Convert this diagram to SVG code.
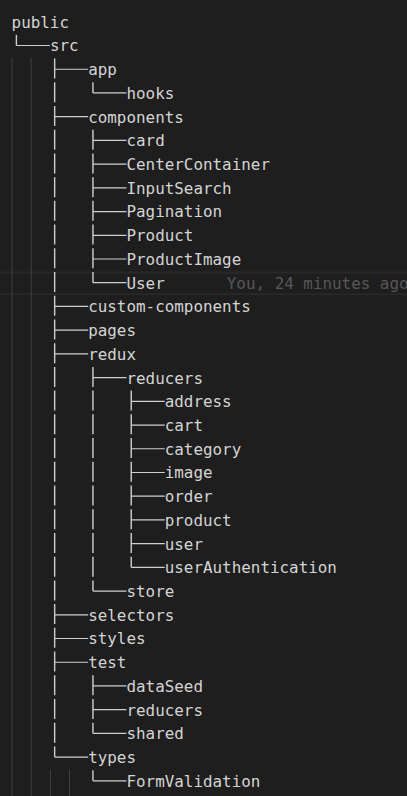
<svg xmlns="http://www.w3.org/2000/svg" width="407" height="796" viewBox="0 0 407 796">
<style>
.t{font-family:"DejaVu Sans Mono","Liberation Mono",monospace;font-size:15.9px;fill:#d4d4d4}
.blame{font-family:"DejaVu Sans Mono","Liberation Mono",monospace;font-size:15.9px;fill:#575757}
.g{stroke:#404040;stroke-width:1;fill:none}
.v{stroke:#cfcfcf;stroke-width:1.4;fill:none;stroke-dasharray:20 3.72}
.h{stroke:#cfcfcf;stroke-width:1.2;fill:none}
</style>
<rect x="0" y="0" width="407" height="796" fill="#1e1e1e"/>
<rect x="-2" y="272.5" width="411" height="21.72" fill="none" stroke="#282828" stroke-width="2"/>
<g id="indent-guides">
<line class="g" x1="12.1" y1="58.04" x2="12.1" y2="796"/>
<line class="g" x1="31.2" y1="58.04" x2="31.2" y2="796"/>
<line class="g" x1="50.4" y1="769.64" x2="50.4" y2="796"/>
<line class="g" x1="69.5" y1="769.64" x2="69.5" y2="796"/>
</g>
<g id="connectors">
<line class="v" x1="16.39" y1="34.82" x2="16.39" y2="45.52"/>
<line class="v" x1="54.67" y1="58.54" x2="54.67" y2="757.12"/>
<line class="v" x1="92.95" y1="82.26" x2="92.95" y2="92.96"/>
<line class="v" x1="92.95" y1="129.70" x2="92.95" y2="282.72"/>
<line class="v" x1="92.95" y1="366.90" x2="92.95" y2="591.08"/>
<line class="v" x1="92.95" y1="675.26" x2="92.95" y2="733.40"/>
<line class="v" x1="92.95" y1="770.14" x2="92.95" y2="780.84"/>
<line class="v" x1="131.23" y1="390.62" x2="131.23" y2="567.36"/>
<path class="h" d="M16.39 45.52H49.88
M54.67 69.24H88.16 M92.95 92.96H126.44
M54.67 116.68H88.16
M92.95 140.40H126.44 M92.95 164.12H126.44 M92.95 187.84H126.44 M92.95 211.56H126.44 M92.95 235.28H126.44 M92.95 259.00H126.44 M92.95 282.72H126.44
M54.67 306.44H88.16 M54.67 330.16H88.16 M54.67 353.88H88.16
M92.95 377.60H126.44
M131.23 401.32H164.72 M131.23 425.04H164.72 M131.23 448.76H164.72 M131.23 472.48H164.72 M131.23 496.20H164.72 M131.23 519.92H164.72 M131.23 543.64H164.72 M131.23 567.36H164.72
M92.95 591.08H126.44
M54.67 614.80H88.16 M54.67 638.52H88.16 M54.67 662.24H88.16
M92.95 685.96H126.44 M92.95 709.68H126.44 M92.95 733.40H126.44
M54.67 757.12H88.16
M92.95 780.84H126.44"/>
</g>
<g id="public"><text class="t" x="11.6" y="27.7">public</text></g>
<g id="src"><text class="t" x="49.88" y="51.42">src</text></g>
<g id="app"><text class="t" x="88.16" y="75.14">app</text></g>
<g id="app-hooks"><text class="t" x="126.44" y="98.86">hooks</text></g>
<g id="components"><text class="t" x="88.16" y="122.58">components</text></g>
<g id="components-card"><text class="t" x="126.44" y="146.30">card</text></g>
<g id="components-CenterContainer"><text class="t" x="126.44" y="170.02">CenterContainer</text></g>
<g id="components-InputSearch"><text class="t" x="126.44" y="193.74">InputSearch</text></g>
<g id="components-Pagination"><text class="t" x="126.44" y="217.46">Pagination</text></g>
<g id="components-Product"><text class="t" x="126.44" y="241.18">Product</text></g>
<g id="components-ProductImage"><text class="t" x="126.44" y="264.90">ProductImage</text></g>
<g id="components-User"><text class="t" x="126.44" y="288.62">User</text><text class="blame" x="226.8" y="288.62">You, 24 minutes ago</text></g>
<g id="custom-components"><text class="t" x="88.16" y="312.34">custom-components</text></g>
<g id="pages"><text class="t" x="88.16" y="336.06">pages</text></g>
<g id="redux"><text class="t" x="88.16" y="359.78">redux</text></g>
<g id="redux-reducers"><text class="t" x="126.44" y="383.50">reducers</text></g>
<g id="reducers-address"><text class="t" x="164.72" y="407.22">address</text></g>
<g id="reducers-cart"><text class="t" x="164.72" y="430.94">cart</text></g>
<g id="reducers-category"><text class="t" x="164.72" y="454.66">category</text></g>
<g id="reducers-image"><text class="t" x="164.72" y="478.38">image</text></g>
<g id="reducers-order"><text class="t" x="164.72" y="502.10">order</text></g>
<g id="reducers-product"><text class="t" x="164.72" y="525.82">product</text></g>
<g id="reducers-user"><text class="t" x="164.72" y="549.54">user</text></g>
<g id="reducers-userAuthentication"><text class="t" x="164.72" y="573.26">userAuthentication</text></g>
<g id="redux-store"><text class="t" x="126.44" y="596.98">store</text></g>
<g id="selectors"><text class="t" x="88.16" y="620.70">selectors</text></g>
<g id="styles"><text class="t" x="88.16" y="644.42">styles</text></g>
<g id="test"><text class="t" x="88.16" y="668.14">test</text></g>
<g id="test-dataSeed"><text class="t" x="126.44" y="691.86">dataSeed</text></g>
<g id="test-reducers"><text class="t" x="126.44" y="715.58">reducers</text></g>
<g id="test-shared"><text class="t" x="126.44" y="739.30">shared</text></g>
<g id="types"><text class="t" x="88.16" y="763.02">types</text></g>
<g id="types-FormValidation"><text class="t" x="126.44" y="786.74">FormValidation</text></g>
</svg>
